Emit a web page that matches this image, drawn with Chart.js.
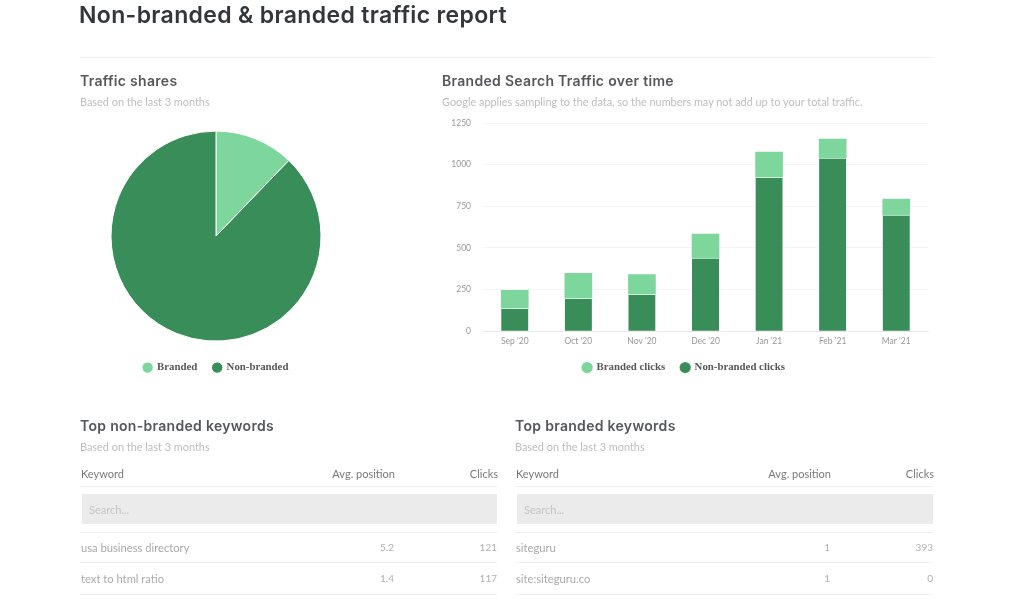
<!DOCTYPE html>
<html><head><meta charset="utf-8">
<script src="https://cdn.jsdelivr.net/npm/chart.js@4/dist/chart.umd.min.js"></script>
<style>
html,body{margin:0;padding:0;background:#fff;width:1024px;height:600px;overflow:hidden}
#page{position:relative;width:1024px;height:600px;filter:blur(0.45px)}
.t{position:absolute;white-space:nowrap;line-height:1;transform:translateY(-50%)}
.h1{font:600 23px Inter;color:#33363b;letter-spacing:.35px}
.h2{font:600 14px Inter;color:#55575a;letter-spacing:.3px}
.sub{font:400 10.9px Lato;color:#bdbdbd}
.th{font:400 11px Lato;color:#77797b}
.td{font:400 11.2px Lato;color:#a9a9a9}
.num{font:400 10px Lato;color:#b0b0b0}
.r{text-align:right;transform:translate(-100%,-50%)}
.line{position:absolute;height:1px;background:#f0f0f0}
.box{position:absolute;background:#ebebeb;height:30px}
canvas{position:absolute}
</style></head><body>
<div id="page">
<div class="t h1" style="left:79px;top:15px">Non-branded &amp; branded traffic report</div>
<div class="line" style="left:80px;top:57px;width:854px"></div>
<div class="t h2" style="left:80px;top:79.5px">Traffic shares</div>
<div class="t sub" style="left:80px;top:100.5px">Based on the last 3 months</div>
<div class="t h2" style="left:442px;top:79.5px">Branded Search Traffic over time</div>
<div class="t sub" style="left:442px;top:100.5px">Google applies sampling to the data, so the numbers may not add up to your total traffic.</div>
<div style="position:absolute;left:80px;top:120px;width:272px;height:268px"><canvas id="pie"></canvas></div>
<div style="position:absolute;left:440px;top:106px;width:494px;height:282px"><canvas id="bar"></canvas></div>
<div id="tables"></div>
</div>
<script>
const pieLabels = ['Branded', 'Non-branded'];
const pieValues = [12.2, 87.8];
const months = ["Sep '20", "Oct '20", "Nov '20", "Dec '20", "Jan '21", "Feb '21", "Mar '21"];
const brandedClicks = [108, 150, 118, 144, 151, 114, 96];
const nonBrandedClicks = [138, 198, 222, 439, 925, 1040, 697];
const yTicks = [0, 250, 500, 750, 1000, 1250];
const tableHeader = ['Keyword', 'Avg. position', 'Clicks'];
const nonBrandedRows = [['usa business directory', '5.2', '121'], ['text to html ratio', '1.4', '117']];
const brandedRows = [['siteguru', '1', '393'], ['site:siteguru.co', '1', '0']];
const LIGHT = '#7dd69c', DARK = '#398d58';

function addTable(left, right, posRight, title, rows) {
  const root = document.getElementById('tables');
  const add = (cls, txt, style) => {
    const d = document.createElement('div');
    d.className = cls; d.textContent = txt; d.style.cssText = style; root.appendChild(d);
  };
  add('t h2', title, `left:${left}px;top:424.5px`);
  add('t sub', 'Based on the last 3 months', `left:${left}px;top:445.5px`);
  add('t th', tableHeader[0], `left:${left+1}px;top:473px`);
  add('t th r', tableHeader[1], `left:${posRight}px;top:473px`);
  add('t th r', tableHeader[2], `left:${right+1}px;top:473px`);
  [486, 532, 562, 594].forEach(y => add('line', '', `left:${left}px;top:${y}px;width:${right-left}px`));
  add('box', '', `left:${left+2}px;top:494px;width:${right-left-2}px`);
  add('t sub', 'Search...', `left:${left+9}px;top:509px;font-size:11px;color:#c4c4c4`);
  rows.forEach((row, i) => {
    const y = [547, 578][i];
    add('t td', row[0], `left:${left+1}px;top:${y}px`);
    add('t num r', row[1], `left:${posRight-1}px;top:${y}px`);
    add('t num r', row[2], `left:${right}px;top:${y}px`);
  });
}
addTable(80, 497, 395, 'Top non-branded keywords', nonBrandedRows);
addTable(515, 933, 831, 'Top branded keywords', brandedRows);

const legendOpts = {
  position: 'bottom',
  labels: {
    usePointStyle: true, pointStyle: 'circle', boxWidth: 8, boxHeight: 8, padding: 16,
    color: '#55575a', font: { family: 'Liberation Serif', size: 10.8, weight: 'bold' }
  }
};
new Chart(document.getElementById('pie'), {
  type: 'pie',
  data: { labels: pieLabels, datasets: [{ data: pieValues, backgroundColor: [LIGHT, DARK], borderColor: '#fff', borderWidth: 1, radius: 105 }] },
  options: {
    responsive: true, maintainAspectRatio: false, animation: false,
    layout: { padding: { top: 6, bottom: 5 } },
    plugins: { legend: legendOpts, tooltip: { enabled: false } }
  }
});
new Chart(document.getElementById('bar'), {
  type: 'bar',
  data: { labels: months, datasets: [
    { label: 'Non-branded clicks', data: nonBrandedClicks, backgroundColor: DARK, borderColor: '#d5f0df', borderWidth: { top: 1 }, borderSkipped: false, barThickness: 27 },
    { label: 'Branded clicks', data: brandedClicks, backgroundColor: LIGHT, borderWidth: 0, barThickness: 27 }
  ] },
  options: {
    responsive: true, maintainAspectRatio: false, animation: false,
    layout: { padding: { top: 4, bottom: 5, right: 6 } },
    plugins: { legend: { ...legendOpts, reverse: true }, tooltip: { enabled: false } },
    scales: {
      x: { stacked: true, grid: { display: false, drawTicks: false }, border: { color: '#e8e8e8' }, afterFit: s => { s.height = 15; },
           ticks: { color: '#999', font: { family: 'Lato', size: 8.5 }, padding: 5, maxRotation: 0 } },
      y: { stacked: true, min: 0, max: 1250, afterFit: s => { s.width = 43; },
           afterBuildTicks: s => { s.ticks = yTicks.map(v => ({ value: v })); },
           grid: { color: '#f4f4f4', drawTicks: false }, border: { display: false },
           ticks: { color: '#999', font: { family: 'Lato', size: 8.5 }, padding: 12, callback: v => String(v) } }
    }
  }
});
</script>
</body></html>
